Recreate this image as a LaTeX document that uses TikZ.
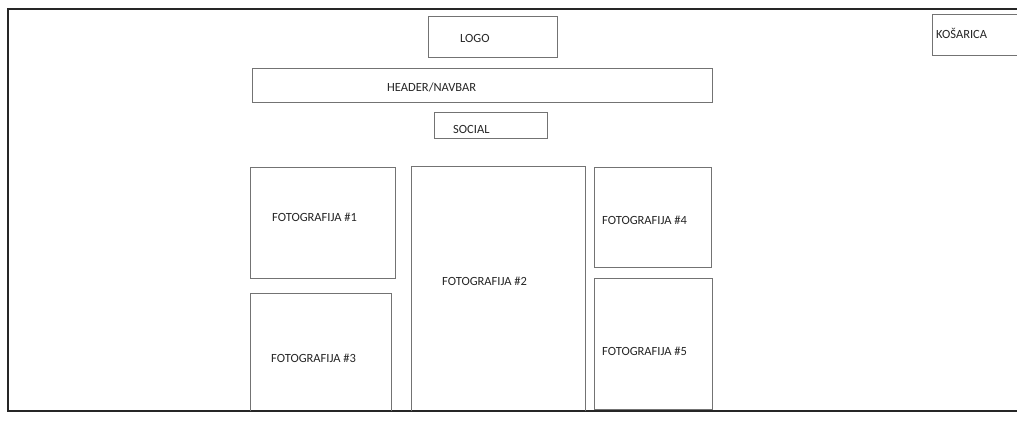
\documentclass[tikz,border=0pt]{standalone}
\usepackage{fontspec}
\setmainfont{Carlito}
\begin{document}
\begin{tikzpicture}[x=1pt,y=-1pt,
  wire/.style={draw=black!55,line width=0.9pt},
  frame/.style={draw=black!85,line width=1.6pt},
  lbl/.style={anchor=west,inner sep=0pt,text=black!85,font=\fontsize{12.5}{14}\selectfont}]
\useasboundingbox (0,0) rectangle (1017,427);
\fill[white] (0,0) rectangle (1017,427);
\draw[frame] (1018,9) -- (8,9) -- (8,411) -- (1018,411);
\draw[wire] (428.7,16.7) rectangle (557.2,57.7);
\draw[wire] (252.7,68.7) rectangle (712.2,102);
\draw[wire] (434.7,112) rectangle (547.2,138);
\draw[wire] (1018,14.7) -- (932.7,14.7) -- (932.7,55.7) -- (1018,55.7);
\draw[wire] (250.7,167.7) rectangle (395.7,278);
\draw[wire] (411.8,411) -- (411.8,166.8) -- (585.8,166.8) -- (585.8,411);
\draw[wire] (594.7,167.7) rectangle (711.2,267.7);
\draw[wire] (594.7,278.7) rectangle (712.2,409);
\draw[wire] (250.5,411) -- (250.5,293.7) -- (391,293.7) -- (391,411);
\node[lbl] (logo) at (460,38) {LOGO};
\node[lbl] (header) at (387,87) {HEADER/NAVBAR};
\node[lbl] (social) at (453,129) {SOCIAL};
\node[lbl] (kosarica) at (936,33) {KOŠARICA};
\node[lbl] (f1) at (272,217) {FOTOGRAFIJA \#1};
\node[lbl] (f2) at (442,281) {FOTOGRAFIJA \#2};
\node[lbl] (f3) at (271,358) {FOTOGRAFIJA \#3};
\node[lbl] (f4) at (602,220) {FOTOGRAFIJA \#4};
\node[lbl] (f5) at (602,351) {FOTOGRAFIJA \#5};
\end{tikzpicture}
\end{document}
